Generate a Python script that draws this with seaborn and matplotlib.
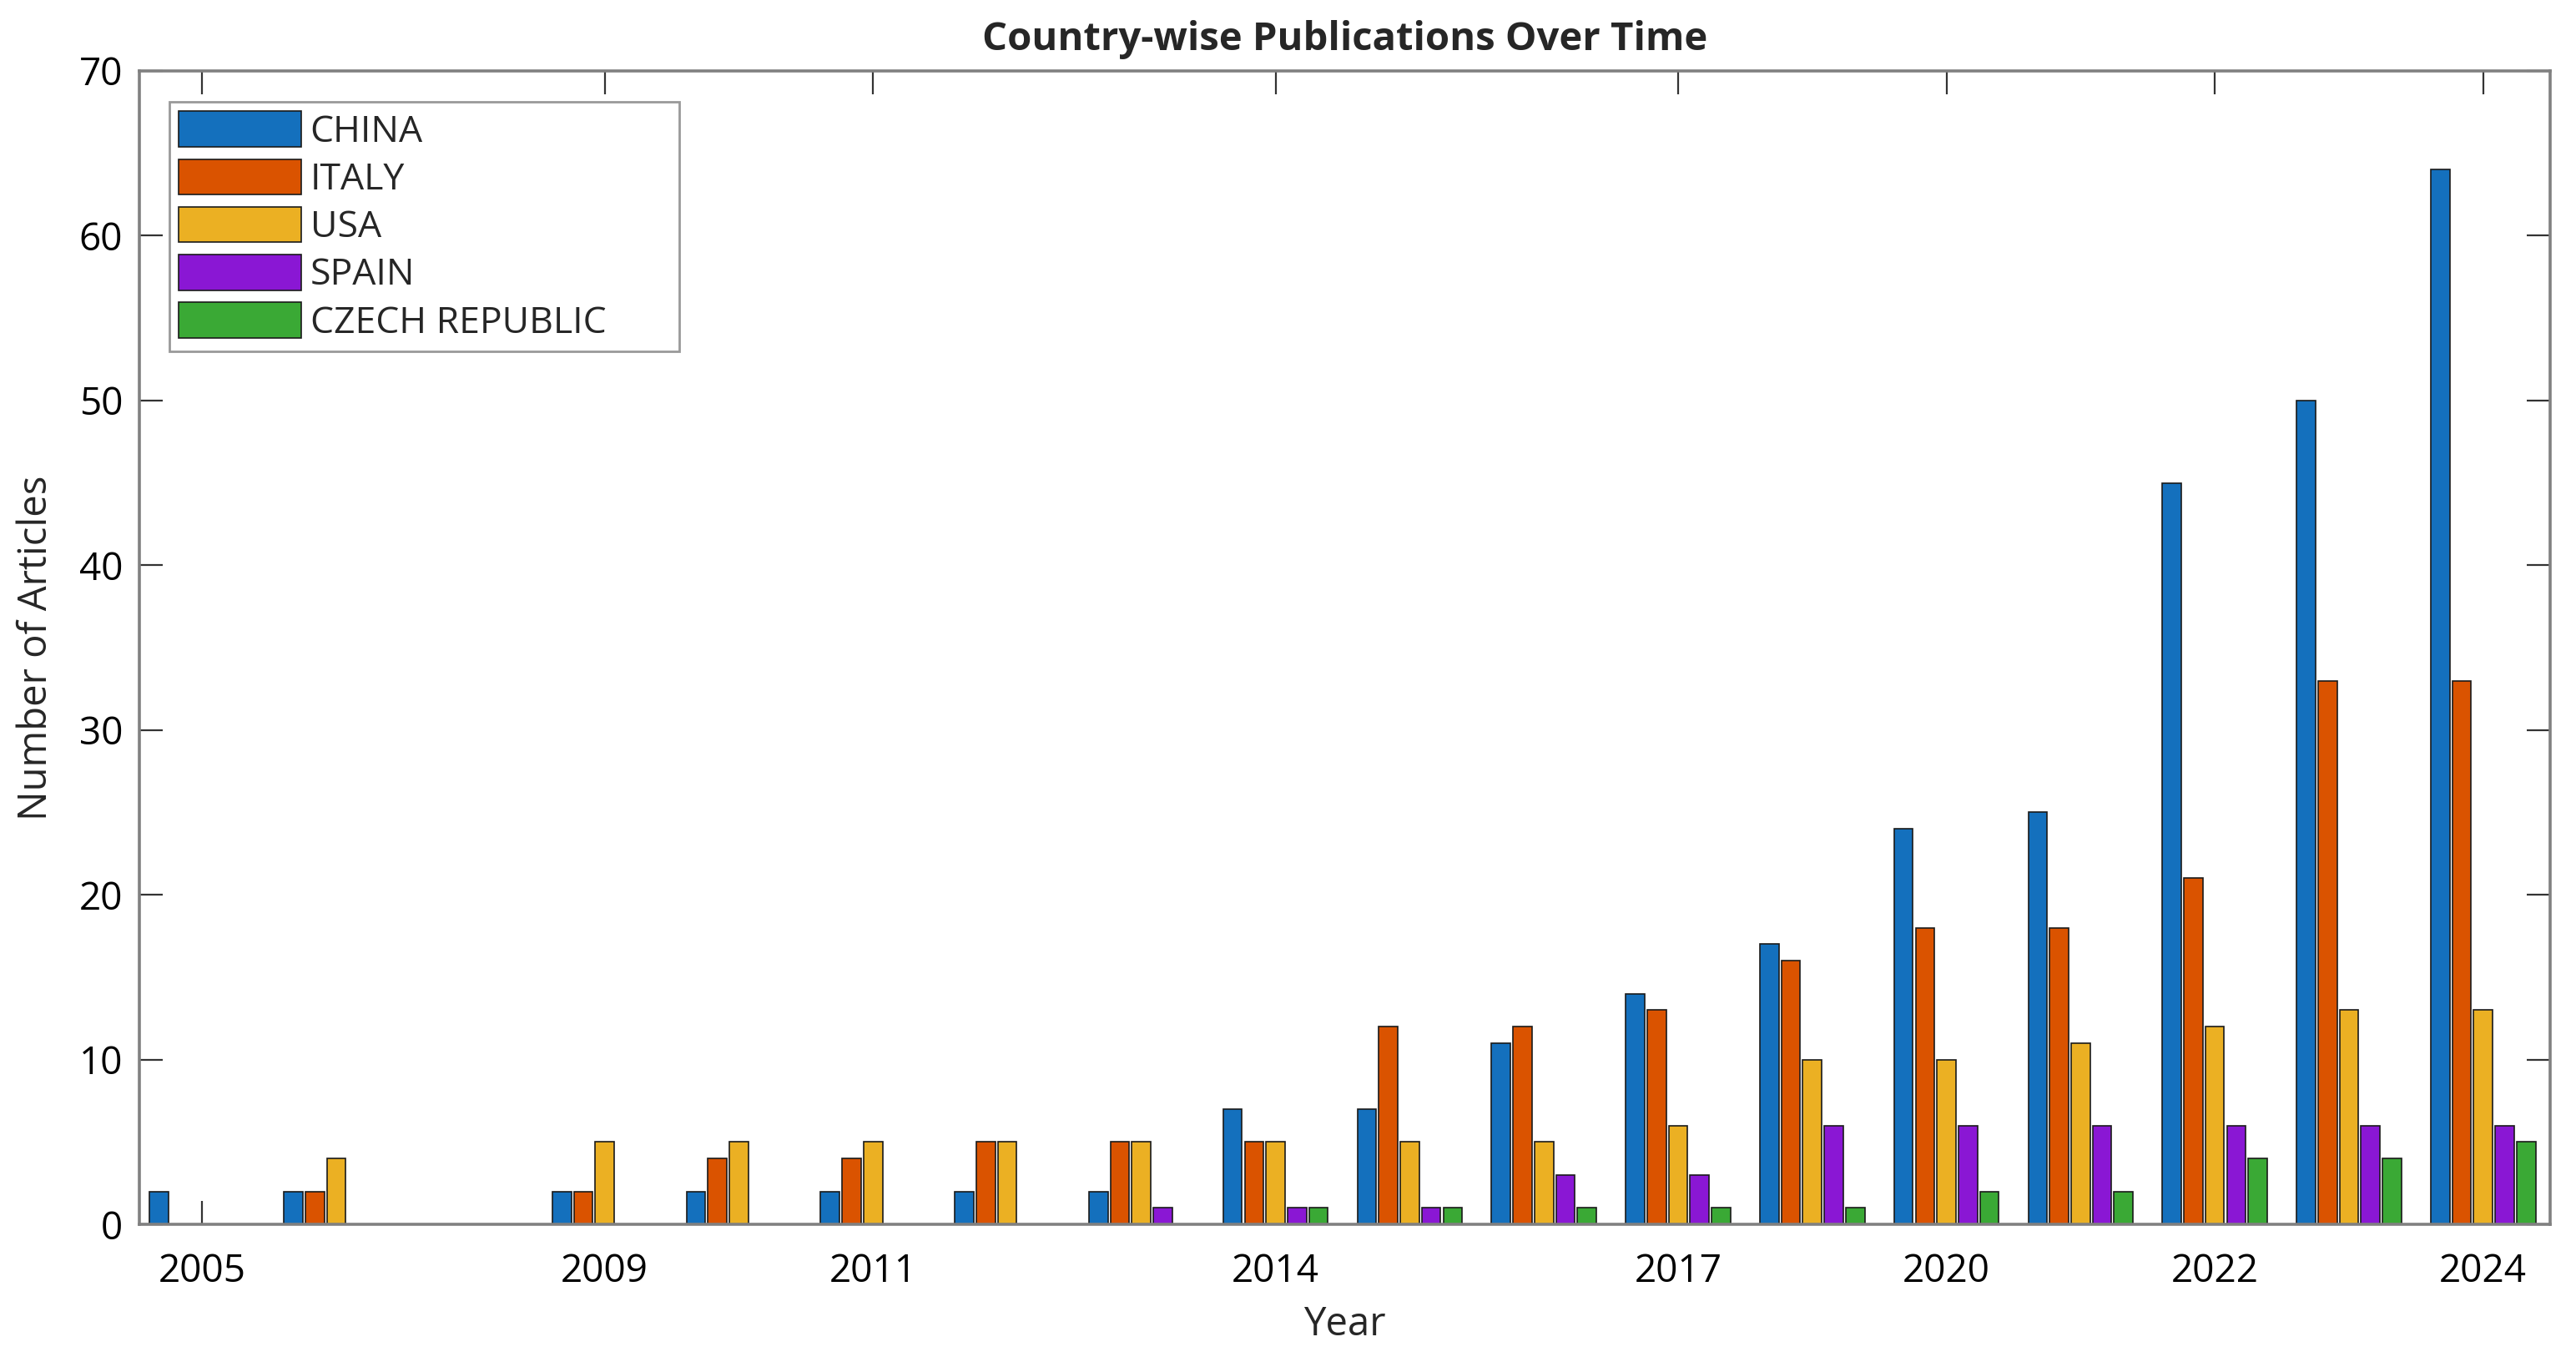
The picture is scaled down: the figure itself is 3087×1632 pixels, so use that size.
import pandas as pd
import matplotlib.pyplot as plt
import seaborn as sns

# one slot per group along the x axis (slot 2 is empty in the source chart)
slots = list(range(18))
tick_slots = [0, 3, 5, 8, 11, 13, 15, 17]
tick_labels = ['2005', '2009', '2011', '2014', '2017', '2020', '2022', '2024']

countries = ['CHINA', 'ITALY', 'USA', 'SPAIN', 'CZECH REPUBLIC']
china = [2, 2, 0, 2, 2, 2, 2, 2, 7, 7, 11, 14, 17, 24, 25, 45, 50, 64]
italy = [0, 2, 0, 2, 4, 4, 5, 5, 5, 12, 12, 13, 16, 18, 18, 21, 33, 33]
usa = [0, 4, 0, 5, 5, 5, 5, 5, 5, 5, 5, 6, 10, 10, 11, 12, 13, 13]
spain = [0, 0, 0, 0, 0, 0, 0, 1, 1, 1, 3, 3, 6, 6, 6, 6, 6, 6]
czech = [0, 0, 0, 0, 0, 0, 0, 0, 1, 1, 1, 1, 1, 2, 2, 4, 4, 5]

colors = ['#1470BD', '#DA5300', '#EBB023', '#8A17D4', '#3AA935']

rows = []
for name, vals in zip(countries, [china, italy, usa, spain, czech]):
    for s, v in zip(slots, vals):
        if v > 0:
            rows.append({'slot': s, 'country': name, 'articles': v})
df = pd.DataFrame(rows)

sns.set_style('ticks')
plt.rcParams['font.family'] = ['Open Sans', 'DejaVu Sans']

fig = plt.figure(figsize=(15.435, 8.16), dpi=200)
ax = fig.add_axes([0.054, 0.101, 0.936, 0.847])

sns.barplot(data=df, x='slot', y='articles', hue='country', order=slots,
            hue_order=countries, palette=colors, saturation=1, gap=0.12,
            edgecolor='#1a1a1a', linewidth=0.6, ax=ax, zorder=2)

ax.set_xlim(-0.47, 17.5)
ax.set_ylim(0, 70)
ax.set_xticks(tick_slots)
ax.set_xticklabels(tick_labels)
ax.set_yticks(range(0, 71, 10))

for sp in ax.spines.values():
    sp.set_visible(True)
    sp.set_color('#808080')
    sp.set_linewidth(1.3)
    sp.set_zorder(3)

ax.tick_params(direction='in', length=10, width=0.8, color='#333333',
               top=True, right=True, labelsize=16.5, labelcolor='black')
ax.tick_params(axis='x', pad=12)
ax.tick_params(axis='y', pad=7)

ax.set_title('Country-wise Publications Over Time', fontsize=17,
             fontweight='bold', pad=9)
ax.set_xlabel('Year', fontsize=17, labelpad=6)
ax.set_ylabel('Number of Articles', fontsize=17, labelpad=10)

handles, labels = ax.get_legend_handles_labels()
leg = ax.legend(handles, labels, loc='upper left',
                bbox_to_anchor=(0.0125, 0.0, 0.2115, 0.973), mode='expand',
                fontsize=16, frameon=True, fancybox=False, edgecolor='#808080',
                handlelength=3.3, handleheight=1.1, handletextpad=0.25,
                labelspacing=0.22, borderpad=0.25, borderaxespad=0)
leg.get_frame().set_linewidth(1.0)

fig.savefig('out.png', dpi=200)
